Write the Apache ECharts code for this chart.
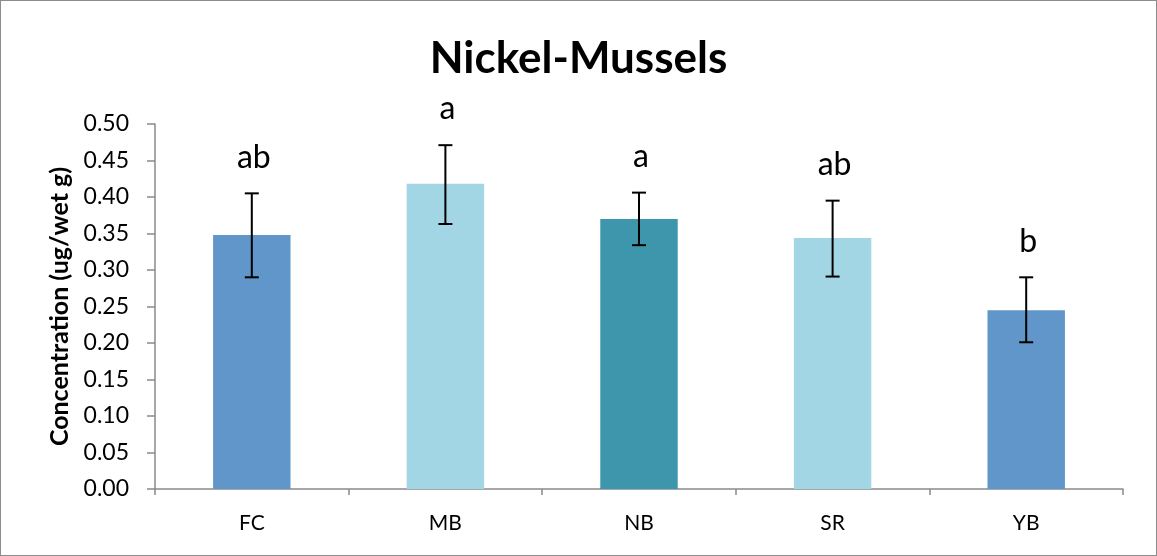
<!DOCTYPE html>
<html>
<head>
<meta charset="utf-8">
<script src="https://cdn.jsdelivr.net/npm/echarts@6/dist/echarts.min.js"></script>
<style>
  html, body { margin: 0; padding: 0; background: #fff; }
  #chart { width: 1155px; height: 554px; border: 1px solid #8c8c8c; }
</style>
</head>
<body>
<div id="chart"></div>
<script>
const sites = ['FC', 'MB', 'NB', 'SR', 'YB'];
const means = [0.348, 0.418, 0.370, 0.344, 0.245];
const errLow = [0.290, 0.363, 0.334, 0.291, 0.201];
const errHigh = [0.405, 0.471, 0.406, 0.395, 0.290];
const groups = ['ab', 'a', 'a', 'ab', 'b'];
const barColors = ['#6096C9', '#A3D6E4', '#3E96AC', '#A3D6E4', '#6096C9'];
const yTicks = [0, 0.05, 0.10, 0.15, 0.20, 0.25, 0.30, 0.35, 0.40, 0.45, 0.50];

const font = 'Lato, "Open Sans", sans-serif';
const chart = echarts.init(document.getElementById('chart'));

const option = {
  animation: false,
  title: {
    text: 'Nickel-Mussels',
    left: 'center',
    top: 31,
    textStyle: { fontFamily: font, fontWeight: 'bold', fontSize: 44, color: '#000' }
  },
  grid: { left: 154, right: 33, top: 123, bottom: 66 },
  xAxis: {
    type: 'category',
    data: sites,
    axisLine: { lineStyle: { color: '#8a8a8a', width: 1.5 } },
    axisTick: { show: true, length: 6, lineStyle: { color: '#8a8a8a', width: 1.5 } },
    axisLabel: { fontFamily: font, fontSize: 21, color: '#000', margin: 24 }
  },
  yAxis: {
    type: 'value',
    min: yTicks[0],
    max: yTicks[yTicks.length - 1],
    interval: 0.05,
    name: 'Concentration (ug/wet g)',
    nameLocation: 'middle',
    nameGap: 83,
    nameTextStyle: { fontFamily: font, fontWeight: 'bold', fontSize: 25, color: '#000' },
    axisLine: { show: true, lineStyle: { color: '#8a8a8a', width: 1.5 } },
    axisTick: { show: true, length: 8, lineStyle: { color: '#8a8a8a', width: 1.5 } },
    splitLine: { show: false },
    axisLabel: {
      fontFamily: font, fontSize: 23, color: '#000', margin: 26,
      formatter: v => v.toFixed(2)
    }
  },
  series: [
    {
      type: 'bar',
      barWidth: '40%',
      data: means.map((v, i) => ({ value: v, itemStyle: { color: barColors[i] } }))
    },
    {
      type: 'custom',
      data: sites.map((s, i) => [i, errLow[i], errHigh[i]]),
      z: 10,
      renderItem: function (params, api) {
        const i = api.value(0);
        const lo = api.coord([i, api.value(1)]);
        const hi = api.coord([i, api.value(2)]);
        const cap = 7;
        const style = { stroke: '#000', lineWidth: 2 };
        return {
          type: 'group',
          children: [
            { type: 'line', shape: { x1: hi[0], y1: hi[1], x2: lo[0], y2: lo[1] }, style: style },
            { type: 'line', shape: { x1: hi[0] - cap, y1: hi[1], x2: hi[0] + cap, y2: hi[1] }, style: style },
            { type: 'line', shape: { x1: lo[0] - cap, y1: lo[1], x2: lo[0] + cap, y2: lo[1] }, style: style },
            {
              type: 'text',
              x: hi[0] + 2,
              y: hi[1] - 20,
              style: {
                text: groups[params.dataIndex],
                fontFamily: font, fontSize: 32, fill: '#000',
                align: 'center', verticalAlign: 'bottom'
              }
            }
          ]
        };
      }
    }
  ]
};

chart.setOption(option);
</script>
</body>
</html>
